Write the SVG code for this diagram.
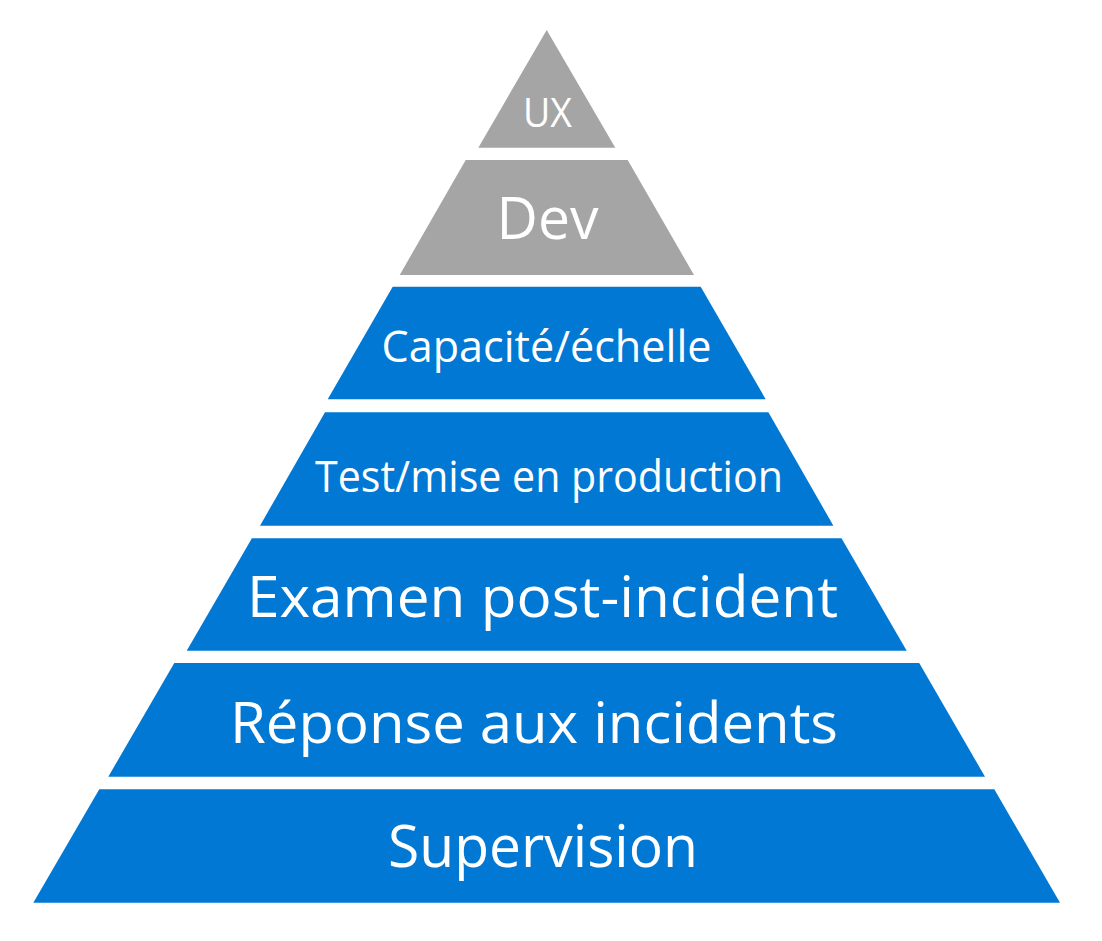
<svg xmlns="http://www.w3.org/2000/svg" width="1102" height="941" viewBox="0 0 1102 941">
<style>
.blue{fill:#0078D4}
.gray{fill:#A5A5A5}
.t{fill:#FFFFFF;font-family:"Open Sans","Noto Sans","Liberation Sans",sans-serif}
</style>
<rect width="1102" height="941" fill="#FFFFFF"/>
<g id="ux">
<polygon class="gray" points="546.7,30 615.3,147.7 478.3,147.7"/>
<text class="t" x="523" y="127" font-size="40" textLength="49" lengthAdjust="spacingAndGlyphs">UX</text>
</g>
<g id="dev">
<polygon class="gray" points="465.7,160 627.7,160 694,275 399.7,275"/>
<text class="t" x="496.5" y="238.5" font-size="59" textLength="102" lengthAdjust="spacingAndGlyphs">Dev</text>
</g>
<g id="capacite">
<polygon class="blue" points="392.7,286.7 700.7,286.7 765.7,399.3 327.7,399.3"/>
<text class="t" x="381.5" y="361.8" font-size="44" textLength="330" lengthAdjust="spacingAndGlyphs">Capacité/échelle</text>
</g>
<g id="test">
<polygon class="blue" points="325,412.3 768.4,412.3 833.4,525.7 260,525.7"/>
<text class="t" x="315" y="491.7" font-size="43" textLength="468" lengthAdjust="spacingAndGlyphs">Test/mise en production</text>
</g>
<g id="examen">
<polygon class="blue" points="251.9,538.3 841.5,538.3 906.7,650.7 186.7,650.7"/>
<text class="t" x="247" y="617" font-size="57" textLength="591" lengthAdjust="spacingAndGlyphs">Examen post-incident</text>
</g>
<g id="reponse">
<polygon class="blue" points="174.3,663 919.2,663 985,776.7 108.3,776.7"/>
<text class="t" x="230" y="743.3" font-size="57" textLength="608" lengthAdjust="spacingAndGlyphs">Réponse aux incidents</text>
</g>
<g id="supervision">
<polygon class="blue" points="99.3,789.3 994.3,789.3 1060,902.7 33.3,902.7"/>
<text class="t" x="388" y="866.7" font-size="59" textLength="310" lengthAdjust="spacingAndGlyphs">Supervision</text>
</g>
<g id="connectors"/>
</svg>
